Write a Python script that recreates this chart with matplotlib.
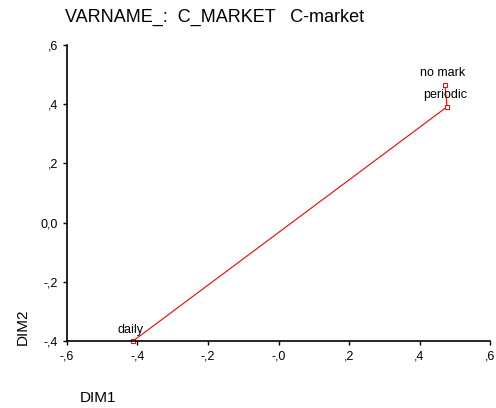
import matplotlib
matplotlib.use("Agg")
from matplotlib import pyplot as plt

plt.rcParams['font.family'] = ['Liberation Sans', 'DejaVu Sans']

# category points (DIM1, DIM2)
labels = ["no mark", "periodic", "daily"]
dim1 = [0.472, 0.478, -0.413]
dim2 = [0.465, 0.391, -0.400]

xticks = [-0.6, -0.4, -0.2, 0.0, 0.2, 0.4, 0.6]
xticklabels = ["-,6", "-,4", "-,2", "-,0", ",2", ",4", ",6"]
yticks = [-0.4, -0.2, 0.0, 0.2, 0.4, 0.6]
yticklabels = ["-,4", "-,2", "0,0", ",2", ",4", ",6"]

fig = plt.figure(figsize=(4.96, 4.08), dpi=100)
ax = fig.add_axes([0.135, 0.164, 0.853, 0.726])

ax.plot(dim1, dim2, color="red", lw=0.8, marker="s", markersize=3.5,
        markerfacecolor="white", markeredgecolor="red", markeredgewidth=0.8,
        clip_on=False)
for x, y, t in zip(dim1, dim2, labels):
    ax.annotate(t, (x, y), xytext=(-1.5, 4), textcoords="offset points",
                ha="center", va="bottom", fontsize=9)

ax.set_xlim(-0.6, 0.6)
ax.set_ylim(-0.4, 0.6)
ax.set_xticks(xticks)
ax.set_xticklabels(xticklabels)
ax.set_yticks(yticks)
ax.set_yticklabels(yticklabels)
ax.tick_params(labelsize=9, length=3, width=1)
for s in ["top", "right"]:
    ax.spines[s].set_visible(False)
for s in ["left", "bottom"]:
    ax.spines[s].set_linewidth(1.2)

fig.text(0.131, 0.958, "VARNAME_:  C_MARKET   C-market", fontsize=13,
         ha="left", va="center")
fig.text(0.045, 0.20, "DIM2", rotation=90, fontsize=11, ha="center", va="center")
fig.text(0.16, 0.025, "DIM1", fontsize=11, ha="left", va="center")

fig.savefig("out.png", dpi=100)
